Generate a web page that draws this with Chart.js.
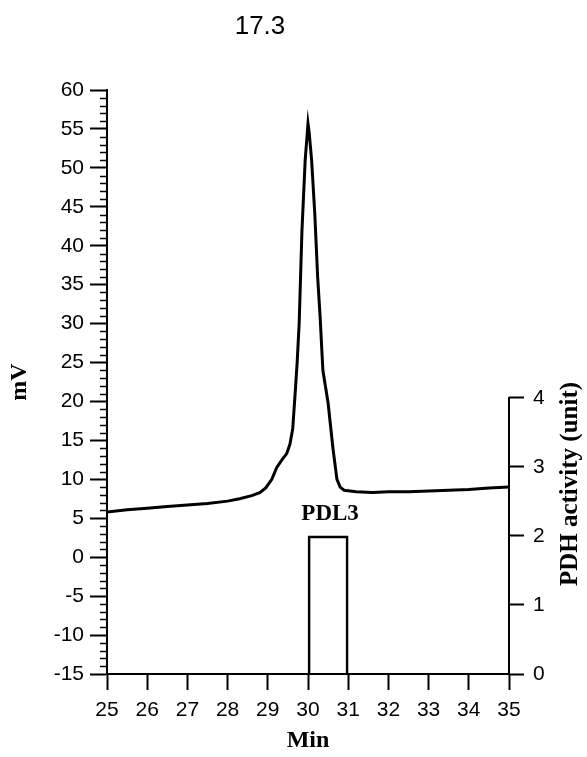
<!DOCTYPE html>
<html><head><meta charset="utf-8">
<script src="https://cdn.jsdelivr.net/npm/chart.js@4.4.1/dist/chart.umd.min.js"></script>
<style>html,body{margin:0;padding:0;background:#fff;}#wrap{width:587px;height:757px;}</style>
</head><body><div id="wrap"><canvas id="c" width="587" height="757"></canvas></div>
<script>
const chartTitle = '17.3';
const peakLabel = 'PDL3';
const xTitle = 'Min';
const yTitle = 'mV';
const y2Title = 'PDH activity (unit)';

const timeMin = [25.0, 25.5, 26.0, 26.5, 27.0, 27.5, 28.0, 28.3, 28.6, 28.8, 28.95, 29.1, 29.22, 29.35, 29.47, 29.55, 29.62, 29.68, 29.73, 29.78, 29.85, 29.93, 30.0, 30.03, 30.09, 30.17, 30.24, 30.3, 30.37, 30.5, 30.62, 30.72, 30.8, 30.9, 31.2, 31.6, 32.0, 32.5, 33.0, 33.5, 34.0, 34.5, 35.0];
const signalMV = [5.8, 6.1, 6.3, 6.5, 6.7, 6.9, 7.2, 7.5, 7.9, 8.3, 8.9, 10.0, 11.5, 12.5, 13.3, 14.5, 16.5, 21.0, 25.0, 30.0, 42.0, 51.0, 55.7, 54.5, 51.0, 44.0, 36.0, 31.0, 24.0, 19.8, 14.0, 10.0, 9.0, 8.6, 8.4, 8.3, 8.4, 8.4, 8.5, 8.6, 8.7, 8.9, 9.0];

const pdhStart = [30];
const pdhEnd = [31];
const pdhActivity = [2];

const xTicks = [25, 26, 27, 28, 29, 30, 31, 32, 33, 34, 35];
const mvTicks = [-15, -10, -5, 0, 5, 10, 15, 20, 25, 30, 35, 40, 45, 50, 55, 60];
const mvMinorStep = 1;
const pdhTicks = [0, 1, 2, 3, 4];

const SANS = 'Liberation Sans';
const SERIF = 'Liberation Serif';

const extras = {
  id: 'extras',
  afterDraw(chart) {
    const ctx = chart.ctx;
    const x = chart.scales.x, y = chart.scales.y, y2 = chart.scales.y2;
    const area = chart.chartArea;
    ctx.save();
    ctx.strokeStyle = '#000';
    ctx.fillStyle = '#000';
    // minor ticks on mV axis
    ctx.lineWidth = 1.5;
    const lo = mvTicks[0], hi = mvTicks[mvTicks.length - 1];
    for (let v = lo; v <= hi; v += mvMinorStep) {
      if (mvTicks.includes(v)) continue;
      const py = Math.round(y.getPixelForValue(v)) + 0.5;
      ctx.beginPath();
      ctx.moveTo(area.left - 7, py);
      ctx.lineTo(area.left, py);
      ctx.stroke();
    }
    // partial right axis line
    ctx.lineWidth = 2;
    ctx.beginPath();
    ctx.moveTo(area.right, y2.getPixelForValue(pdhTicks[0]) + 1);
    ctx.lineTo(area.right, y2.getPixelForValue(pdhTicks[pdhTicks.length - 1]) - 1);
    ctx.stroke();
    // title
    ctx.font = '26px "' + SANS + '"';
    ctx.textAlign = 'center';
    ctx.textBaseline = 'alphabetic';
    ctx.fillText(chartTitle, 260, 34);
    // peak label
    const cx = x.getPixelForValue((pdhStart[0] + pdhEnd[0]) / 2);
    ctx.font = 'bold 23px "' + SERIF + '"';
    ctx.fillText(peakLabel, cx + 2, y2.getPixelForValue(pdhActivity[0]) - 16);
    // right axis title
    ctx.translate(area.right + 62, 484);
    ctx.rotate(-Math.PI / 2);
    ctx.font = 'bold 25px "' + SERIF + '"';
    ctx.textBaseline = 'middle';
    ctx.fillText(y2Title, 0, 0);
    ctx.restore();
  }
};

new Chart(document.getElementById('c'), {
  type: 'line',
  data: {
    datasets: [
      {
        type: 'line',
        data: timeMin.map((t, i) => ({ x: t, y: signalMV[i] })),
        borderColor: '#000',
        borderWidth: 3,
        pointRadius: 0,
        tension: 0,
        xAxisID: 'x',
        yAxisID: 'y'
      },
      {
        type: 'bar',
        data: pdhStart.map((s, i) => ({ x: (s + pdhEnd[i]) / 2, y: pdhActivity[i] })),
        backgroundColor: 'rgba(0,0,0,0)',
        borderColor: '#000',
        borderWidth: 2,
        borderSkipped: 'bottom',
        barPercentage: 1,
        categoryPercentage: 1,
        xAxisID: 'x',
        yAxisID: 'y2'
      }
    ]
  },
  options: {
    responsive: false,
    devicePixelRatio: 1,
    animation: false,
    layout: { padding: { top: 90, left: 0, right: 0, bottom: 0 } },
    plugins: { legend: { display: false }, tooltip: { enabled: false }, title: { display: false } },
    scales: {
      x: {
        type: 'linear', min: 25, max: 35, offset: false,
        afterBuildTicks: s => { s.ticks = xTicks.map(v => ({ value: v })); },
        ticks: { font: { family: SANS, size: 21 }, color: '#000', padding: 8, maxRotation: 0, autoSkip: false },
        grid: { drawOnChartArea: false, offset: false, tickLength: 16, tickWidth: 2, color: '#000' },
        border: { display: true, color: '#000', width: 2 },
        title: { display: true, text: xTitle, color: '#000', font: { family: SERIF, size: 24, weight: 'bold' }, padding: { top: 2, bottom: 2 } },
        afterFit: s => { s.height = 83; }
      },
      y: {
        type: 'linear', position: 'left', min: -15, max: 60,
        afterBuildTicks: s => { s.ticks = mvTicks.map(v => ({ value: v })); },
        ticks: { font: { family: SANS, size: 21 }, color: '#000', padding: 6, autoSkip: false },
        grid: { drawOnChartArea: false, tickLength: 17, tickWidth: 2, color: '#000' },
        border: { display: true, color: '#000', width: 2 },
        title: { display: true, text: yTitle, color: '#000', font: { family: SERIF, size: 24, weight: 'bold' }, padding: { top: 5, bottom: 0 } },
        afterFit: s => { s.width = 107; }
      },
      y2: {
        type: 'linear', position: 'right', min: 0, max: 8.46,
        afterBuildTicks: s => { s.ticks = pdhTicks.map(v => ({ value: v })); },
        ticks: { font: { family: SANS, size: 21 }, color: '#000', padding: 9, autoSkip: false },
        grid: { drawOnChartArea: false, tickLength: 15, tickWidth: 2, color: '#000' },
        border: { display: false },
        afterFit: s => { s.width = 78; }
      }
    }
  },
  plugins: [extras]
});
</script>
</body></html>
